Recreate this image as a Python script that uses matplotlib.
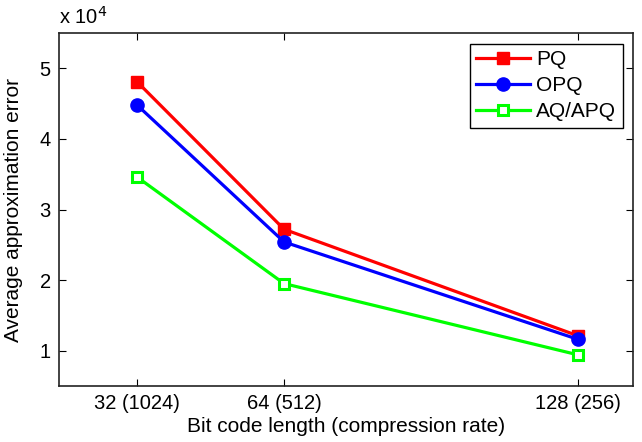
import matplotlib.pyplot as plt
from matplotlib.ticker import FuncFormatter

plt.rcParams['font.family'] = ['Liberation Sans', 'DejaVu Sans']

bits = [32, 64, 128]
tick_labels = ['32 (1024)', '64 (512)', '128 (256)']
pq = [48100, 27200, 12100]
opq = [44800, 25400, 11600]
aq = [34600, 19500, 9400]

fig = plt.figure(figsize=(6.42, 4.42), dpi=100)
ax = fig.add_axes([0.092, 0.127, 0.894, 0.798])

ax.plot(bits, pq, color='red', lw=2.3, marker='s', ms=8.5, label='PQ')
ax.plot(bits, opq, color='blue', lw=2.3, marker='o', ms=9.5, label='OPQ')
ax.plot(bits, aq, color='#00ff00', lw=2.3, marker='s', ms=7.5, mfc='white',
        mec='#00ff00', mew=2.2, label='AQ/APQ')

ax.set_xlim(15, 140)
ax.set_ylim(5000, 55000)
ax.set_xticks(bits)
ax.set_xticklabels(tick_labels)
ax.set_yticks([10000, 20000, 30000, 40000, 50000])
ax.yaxis.set_major_formatter(FuncFormatter(lambda v, p: '%d' % round(v / 1e4)))
ax.tick_params(direction='in', top=True, right=True, labelsize=14.5, length=5, width=0.8, pad=6)
for s in ax.spines.values():
    s.set_linewidth(1.2)
    s.set_color('#222222')

ax.set_xlabel('Bit code length (compression rate)', fontsize=15, labelpad=3)
ax.set_ylabel('Average approximation error', fontsize=15, labelpad=12)
fig.text(0.092, 0.937, r'x 10$^{4}$', fontsize=14.5, ha='left', va='bottom')

leg = ax.legend(loc='upper right', fontsize=15, fancybox=False, framealpha=1,
                edgecolor='black', handlelength=2.6, borderaxespad=0.5,
                labelspacing=0.35, handletextpad=0.3, borderpad=0.3)
leg.get_frame().set_linewidth(1.0)

fig.savefig('out.png', dpi=100)
